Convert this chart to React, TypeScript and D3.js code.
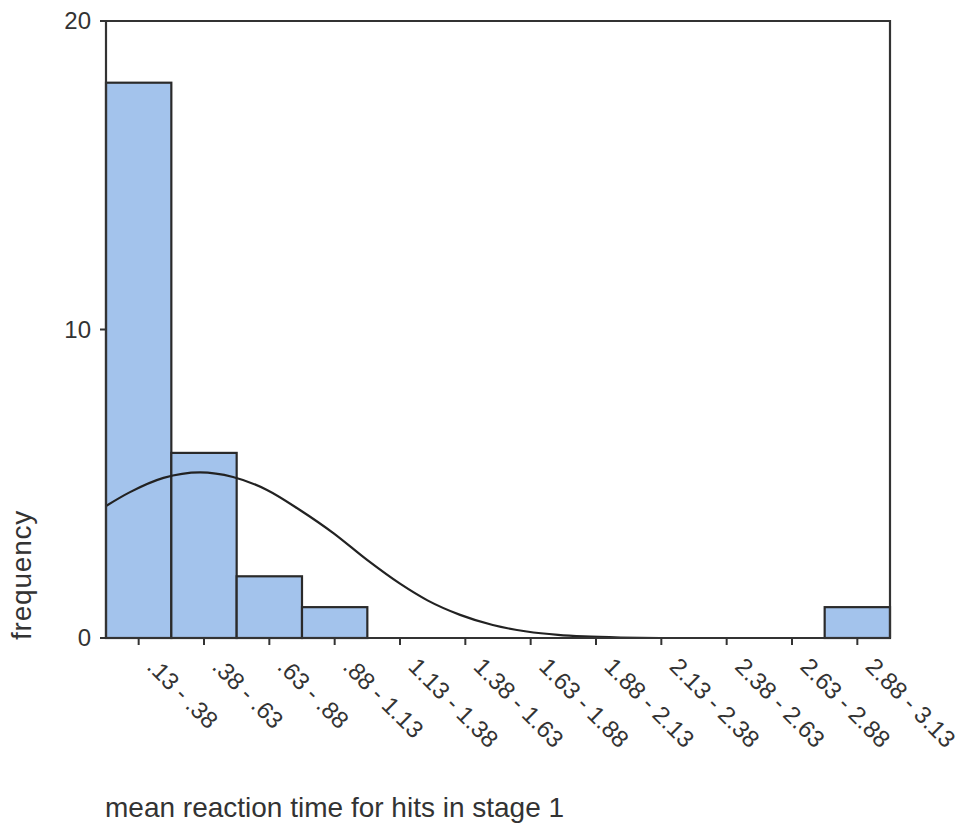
import React from 'react';
import * as d3 from 'd3';

// bin edges (lower bound of each bin) and labels
const binStarts = [0.13, 0.38, 0.63, 0.88, 1.13, 1.38, 1.63, 1.88, 2.13, 2.38, 2.63, 2.88];
const binWidth = 0.25;
const binLabels = [
  '.13 - .38', '.38 - .63', '.63 - .88', '.88 - 1.13', '1.13 - 1.38', '1.38 - 1.63',
  '1.63 - 1.88', '1.88 - 2.13', '2.13 - 2.38', '2.38 - 2.63', '2.63 - 2.88', '2.88 - 3.13'
];
const counts = [18, 6, 2, 1, 0, 0, 0, 0, 0, 0, 0, 1];

// normal curve
const curveX = [0.13, 0.22, 0.35, 0.49, 0.616, 0.746, 0.872, 1.0, 1.129, 1.255, 1.36, 1.485, 1.61, 1.74, 1.86, 1.96, 2.1, 2.25];
const curveY = [4.28, 4.72, 5.19, 5.37, 5.22, 4.8, 4.15, 3.4, 2.53, 1.76, 1.22, 0.75, 0.42, 0.21, 0.1, 0.05, 0.015, 0];

const yTicks = [0, 10, 20];

const W = 961;
const H = 826;
const left = 106, right = 890, top = 21, bottom = 638;
const font = '"Liberation Sans", Arial, sans-serif';
const ink = '#333';

export default function App() {
  const x = d3.scaleLinear().domain([0.13, 3.13]).range([left, right]);
  const y = d3.scaleLinear().domain([0, 20]).range([bottom, top]);

  const line = d3.line<number>()
    .x((d, i) => x(curveX[i]))
    .y(d => y(d))
    .curve(d3.curveMonotoneX);

  return (
    <svg width={W} height={H} style={{ position: 'absolute', left: 0, top: 0, background: '#fff' }}>
      {/* bars */}
      {counts.map((c, i) => c > 0 && (
        <rect key={i}
          x={x(binStarts[i])} y={y(c)}
          width={x(binStarts[i] + binWidth) - x(binStarts[i])}
          height={y(0) - y(c)}
          fill="#a3c3ec" stroke="#2a2a2a" strokeWidth={2.2} />
      ))}

      {/* normal curve */}
      <path d={line(curveY) || ''} fill="none" stroke="#222" strokeWidth={2.2} />

      {/* frame */}
      <path d={`M${left},${bottom}V${top}H${right}V${bottom}`} fill="none" stroke={ink} strokeWidth={2.2} />
      <line x1={left - 6} x2={right} y1={bottom} y2={bottom} stroke={ink} strokeWidth={2.2} />

      {/* y axis */}
      {yTicks.map(t => (
        <g key={t}>
          <line x1={left - 6} x2={left} y1={y(t)} y2={y(t)} stroke={ink} strokeWidth={2} />
          <text x={91} y={y(t)} dy="0.35em" textAnchor="end" fontFamily={font} fontSize={24} fill={ink}>{t}</text>
        </g>
      ))}

      {/* x axis ticks and labels */}
      {binLabels.map((lab, i) => {
        const cx = x(binStarts[i] + binWidth / 2);
        return (
          <g key={lab}>
            <line x1={cx} x2={cx} y1={bottom} y2={bottom + 7} stroke={ink} strokeWidth={2} />
            <text transform={`translate(${cx + 7},${668}) rotate(45)`} fontFamily={font} fontSize={24} fill={ink}>{lab}</text>
          </g>
        );
      })}

      {/* axis titles */}
      <text transform={`translate(31,640) rotate(-90)`} fontFamily={font} fontSize={28} letterSpacing={0.8} fill={ink}>frequency</text>
      <text x={105} y={817} fontFamily={font} fontSize={28} fill={ink}>mean reaction time for hits in stage 1</text>
    </svg>
  );
}
